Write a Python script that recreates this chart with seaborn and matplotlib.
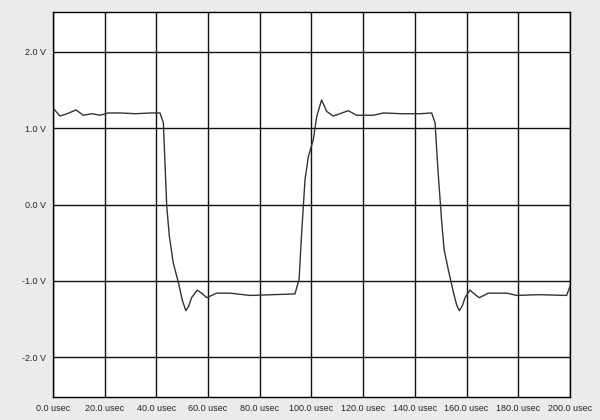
import matplotlib
matplotlib.use("Agg")
import matplotlib.pyplot as plt
import seaborn as sns
import pandas as pd

# waveform (time in usec, level in volts)
time_us = [0.4, 2.7, 5.5, 8.9, 11.7, 15.0, 18.2, 21.4, 26.0, 32.0, 38.0, 41.4,
           42.7, 44.0, 45.0, 46.5, 48.5, 50.0, 51.4, 52.5, 53.6, 55.8, 57.5, 59.5,
           63.3, 68.5, 76.2, 85.0, 93.6, 95.2, 96.2, 97.5, 98.8, 100.7, 102.0,
           103.9, 105.9, 108.4, 111.0, 114.2, 117.5, 123.9, 127.8, 135.0, 142.0,
           146.5, 147.8, 149.0, 150.4, 151.3, 152.9, 154.9, 156.2, 157.2, 158.3,
           159.4, 161.3, 163.0, 164.9, 168.4, 175.5, 179.4, 188.0, 198.7, 200.0]
volts = [1.25, 1.16, 1.19, 1.24, 1.17, 1.19, 1.17, 1.20, 1.20, 1.19, 1.20, 1.20,
         1.07, -0.02, -0.41, -0.76, -1.02, -1.25, -1.39, -1.33, -1.22, -1.12, -1.16, -1.22,
         -1.16, -1.16, -1.19, -1.18, -1.17, -0.98, -0.37, 0.33, 0.63, 0.85, 1.15,
         1.37, 1.22, 1.16, 1.19, 1.23, 1.17, 1.17, 1.20, 1.19, 1.19,
         1.20, 1.07, 0.41, -0.24, -0.59, -0.85, -1.15, -1.32, -1.39, -1.33,
         -1.22, -1.12, -1.17, -1.22, -1.16, -1.16, -1.19, -1.18, -1.19, -1.07]

x_ticks = [0, 20, 40, 60, 80, 100, 120, 140, 160, 180, 200]
y_ticks = [2.0, 1.0, 0.0, -1.0, -2.0]

df = pd.DataFrame({"t": time_us, "v": volts})

sns.set_style("white")
plt.rcParams["font.family"] = ["Liberation Sans", "DejaVu Sans"]

fig = plt.figure(figsize=(6, 4.2), dpi=100, facecolor="#ebebeb")
ax = fig.add_axes([0.0883, 0.0548, 0.8617, 0.9162])
ax.set_facecolor("white")

sns.lineplot(data=df, x="t", y="v", ax=ax, color="#333333", linewidth=1.0)

ax.set_xlim(0, 200)
ax.set_ylim(-2.52, 2.52)
ax.set_xticks(x_ticks)
ax.set_xticklabels([f"{t:.1f} usec" for t in x_ticks])
ax.set_yticks(y_ticks)
ax.set_yticklabels([f"{v:.1f} V" for v in y_ticks])
ax.grid(True, color="#111111", linewidth=1.0)
ax.set_axisbelow(True)
ax.tick_params(axis="both", direction="out", length=3, width=1, color="black",
               labelsize=6.5, pad=2)
for s in ax.spines.values():
    s.set_color("black")
    s.set_linewidth(1.0)
ax.set_xlabel("")
ax.set_ylabel("")

fig.savefig("out.png", dpi=100, facecolor=fig.get_facecolor())
